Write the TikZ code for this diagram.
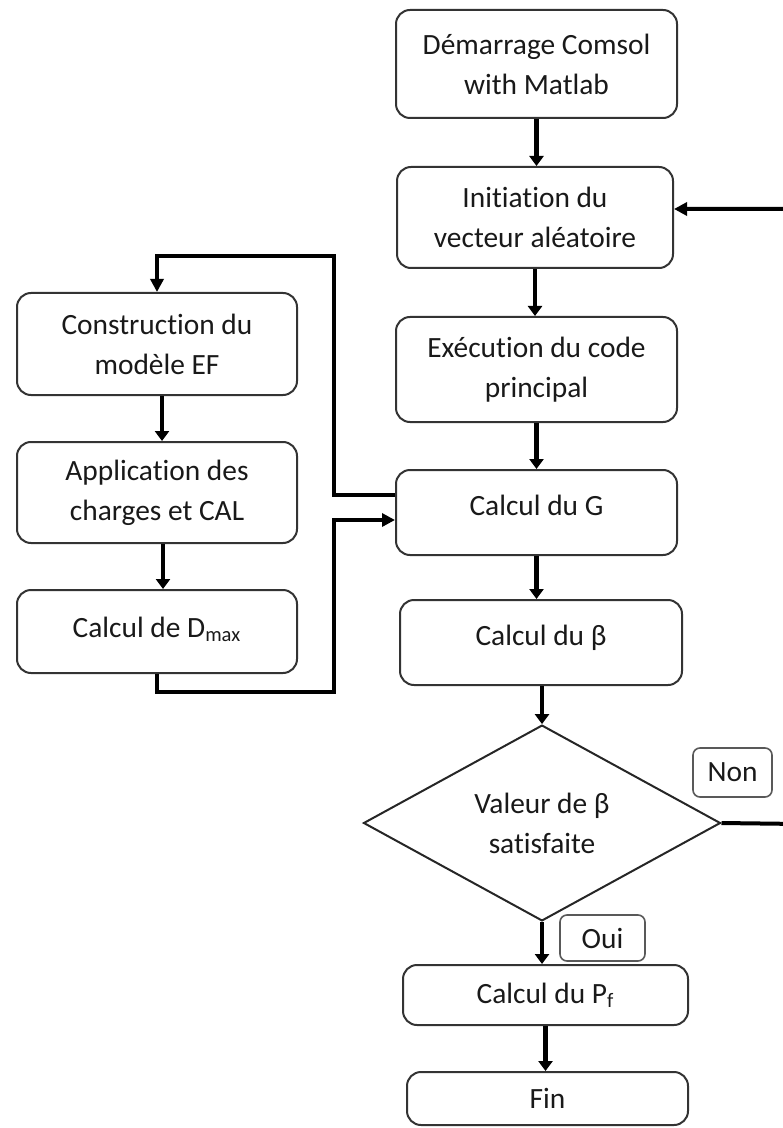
\documentclass[tikz,border=0pt]{standalone}
\usepackage{fontspec}
\setmainfont[Ligatures={NoCommon}]{Carlito}
\usetikzlibrary{shapes.geometric,arrows.meta,calc}
\begin{document}
\begin{tikzpicture}[x=0.5pt,y=-0.5pt,
  every node/.style={font=\fontsize{14.7}{20}\selectfont, text=black!90},
  procbox/.style={draw=black!80, line width=1pt, rounded corners=7pt, align=center, inner sep=0pt},
  tagbox/.style={draw=black!65, line width=0.8pt, rounded corners=3.5pt, inner sep=0pt},
  decbox/.style={draw=black!85, line width=1pt, diamond, inner sep=0pt, align=center},
  arr/.style={line width=2.4pt, -{Triangle[length=5pt,width=7pt]}},
  loopline/.style={line width=2pt, -{Triangle[length=6.5pt,width=6.5pt]}}
]
\useasboundingbox (0,0) rectangle (782,1128);

% main column
\node[procbox, minimum width=140.5pt, minimum height=54pt] (start) at (536.5,64) {Démarrage Comsol\\with Matlab};
\node[procbox, minimum width=138pt, minimum height=50.5pt] (init) at (535,217.5) {Initiation du\\vecteur aléatoire};
\node[procbox, minimum width=140.5pt, minimum height=52.5pt] (exec) at (536.5,369.5) {Exécution du code\\principal};
\node[procbox, minimum width=140.5pt, minimum height=42.5pt, text height=10pt, text depth=7.5pt] (G) at (536.5,512.5) {Calcul du G};
\node[procbox, minimum width=141pt, minimum height=42.5pt, text height=10pt, text depth=7.5pt] (beta) at (541,642.5) {Calcul du β};
\node[decbox, minimum width=178.5pt, minimum height=90pt] (dia) at (542,823) {Valeur de β\\satisfaite};
\node[procbox, minimum width=142.5pt, minimum height=30pt] (pf) at (545.5,995) {Calcul du P\textsubscript{f}};
\node[procbox, minimum width=140.5pt, minimum height=26.5pt] (fin) at (547.5,1098.5) {Fin};

% labels
\node[tagbox, minimum width=39.5pt, minimum height=24.5pt] (non) at (732.5,772.5) {Non};
\node[tagbox, minimum width=42.5pt, minimum height=23pt] (oui) at (602.5,938) {Oui};

% left column
\node[procbox, minimum width=140pt, minimum height=51pt] (constr) at (157,344) {Construction du\\modèle EF};
\node[procbox, minimum width=140pt, minimum height=50.5pt] (appl) at (157,492.5) {Application des\\charges et CAL};
\node[procbox, minimum width=140pt, minimum height=41.5pt, text height=10pt, text depth=4.5pt] (dmax) at (157,631.5) {Calcul de D\textsubscript{max}};

% main flow arrows
\draw[arr] (start.south) -- (start.south |- init.north);
\draw[arr] (init.south) -- (init.south |- exec.north);
\draw[arr] (exec.south) -- (exec.south |- G.north);
\draw[arr] (G.south) -- (G.south |- beta.north);
\draw[arr] (dia.north |- beta.south) -- (dia.north);
\draw[arr] (dia.south) -- (dia.south |- pf.north);
\draw[arr] (pf.south) -- (pf.south |- fin.north);

% left flow arrows
\draw[arr] ([xshift=2.5pt]constr.south) -- ([xshift=2.5pt]appl.north);
\draw[arr] ([xshift=3pt]appl.south) -- ([xshift=3pt]dmax.north);

% loops between columns
\draw[loopline] ($(G.west)+(0,-17.5)$) -| (334,256) -| (constr.north);
\draw[loopline] (dmax.south) |- (334,692) |- ($(G.west)+(0,7.5)$);

% Non loop back to initiation
\coordinate (farright) at (800,824);
\draw[loopline] (dia.east) -- (farright) |- ($(init.east)+(0,-8.5)$);
\end{tikzpicture}
\end{document}
